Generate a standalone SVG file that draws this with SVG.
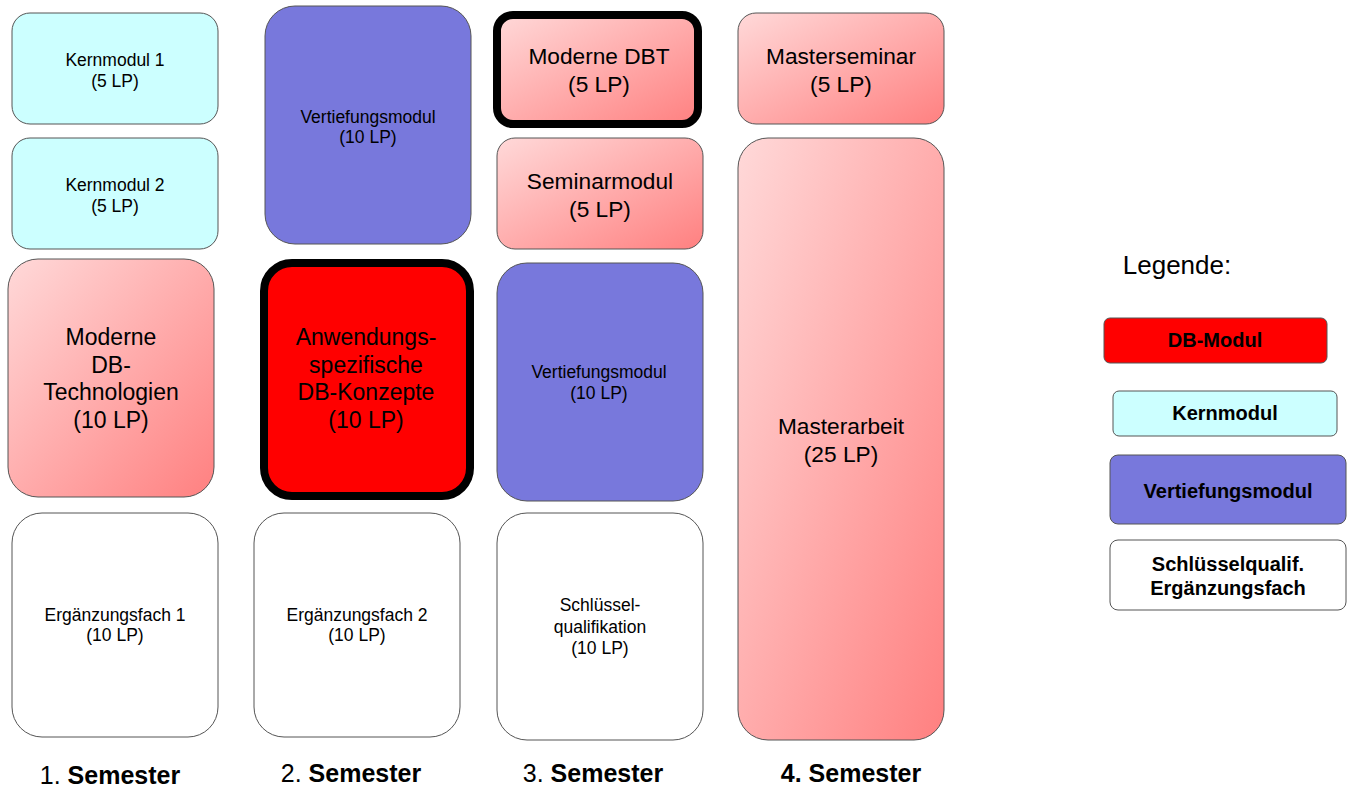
<svg xmlns="http://www.w3.org/2000/svg" width="1347" height="791" viewBox="0 0 1347 791">
<defs>
<linearGradient id="pink" x1="0" y1="0" x2="1" y2="1">
<stop offset="0" stop-color="#ffd9d9"/>
<stop offset="1" stop-color="#ff8080"/>
</linearGradient>
<style>
text{font-family:"Liberation Sans",Arial,sans-serif;fill:#000;text-anchor:middle}
.k{fill:#ccffff;stroke:#555;stroke-width:1}
.v{fill:#7878dc;stroke:#555;stroke-width:1}
.p{fill:url(#pink);stroke:#555;stroke-width:1}
.w{fill:#fff;stroke:#555;stroke-width:1}
.r{fill:#ff0000;stroke:#555;stroke-width:1}
.thick{stroke:#000;stroke-width:8}
.s14{font-size:17.5px}
.s20{font-size:22.7px}
.s22{font-size:23px}
.b16{font-size:20px;font-weight:bold}
.sem{font-size:25px}
</style>
</defs>
<rect width="1347" height="791" fill="#fff"/>

<g id="kern1"><rect class="k" x="12" y="13" width="206" height="111" rx="18"/><text class="s14" x="115" y="66">Kernmodul 1</text><text class="s14" x="115" y="87">(5 LP)</text></g>
<g id="kern2"><rect class="k" x="12" y="138" width="206" height="111" rx="18"/><text class="s14" x="115" y="191">Kernmodul 2</text><text class="s14" x="115" y="212">(5 LP)</text></g>
<g id="mdbt10"><rect class="p" x="8" y="259" width="206" height="238" rx="30"/><text class="s22" x="111" y="345">Moderne</text><text class="s22" x="111" y="373">DB-</text><text class="s22" x="111" y="400">Technologien</text><text class="s22" x="111" y="428">(10 LP)</text></g>
<g id="erg1"><rect class="w" x="12" y="513" width="206" height="224" rx="30"/><text class="s14" x="115" y="621">Ergänzungsfach 1</text><text class="s14" x="115" y="641">(10 LP)</text></g>

<g id="vert1"><rect class="v" x="265" y="6" width="206" height="238" rx="30"/><text class="s14" x="368" y="123">Vertiefungsmodul</text><text class="s14" x="368" y="143">(10 LP)</text></g>
<g id="anw"><rect class="r thick" x="264" y="263" width="206" height="233" rx="28"/><text class="s22" x="366" y="345">Anwendungs-</text><text class="s22" x="366" y="373">spezifische</text><text class="s22" x="366" y="400">DB-Konzepte</text><text class="s22" x="366" y="428">(10 LP)</text></g>
<g id="erg2"><rect class="w" x="254" y="513" width="206" height="224" rx="30"/><text class="s14" x="357" y="621">Ergänzungsfach 2</text><text class="s14" x="357" y="641">(10 LP)</text></g>

<g id="mdbt"><rect class="p thick" x="497" y="15" width="201" height="109" rx="16"/><text class="s20" x="599" y="64">Moderne DBT</text><text class="s20" x="599" y="92">(5 LP)</text></g>
<g id="seminar"><rect class="p" x="497" y="138" width="206" height="111" rx="18"/><text class="s20" x="600" y="189">Seminarmodul</text><text class="s20" x="600" y="217">(5 LP)</text></g>
<g id="vert2"><rect class="v" x="497" y="263" width="206" height="238" rx="30"/><text class="s14" x="599" y="378">Vertiefungsmodul</text><text class="s14" x="599" y="399">(10 LP)</text></g>
<g id="schl"><rect class="w" x="497" y="513" width="206" height="227" rx="30"/><text class="s14" x="600" y="611">Schlüssel-</text><text class="s14" x="600" y="633">qualifikation</text><text class="s14" x="600" y="654">(10 LP)</text></g>

<g id="mseminar"><rect class="p" x="738" y="13" width="206" height="111" rx="18"/><text class="s20" x="841" y="64">Masterseminar</text><text class="s20" x="841" y="92">(5 LP)</text></g>
<g id="marbeit"><rect class="p" x="738" y="138" width="206" height="602" rx="30"/><text class="s20" x="841" y="434">Masterarbeit</text><text class="s20" x="841" y="462">(25 LP)</text></g>

<g id="semesters">
<text class="sem" x="110" y="784">1. <tspan font-weight="bold">Semester</tspan></text>
<text class="sem" x="351" y="782">2. <tspan font-weight="bold">Semester</tspan></text>
<text class="sem" x="593" y="782">3. <tspan font-weight="bold">Semester</tspan></text>
<text class="sem" x="851" y="782" font-weight="bold">4. Semester</text>
</g>

<g id="legend">
<text x="1177" y="274" font-size="26">Legende:</text>
<g id="leg-db"><rect class="r" x="1104" y="318" width="223" height="45" rx="6"/><text class="b16" x="1215" y="347">DB-Modul</text></g>
<g id="leg-kern"><rect class="k" x="1113" y="391" width="224" height="45" rx="6"/><text class="b16" x="1225" y="420">Kernmodul</text></g>
<g id="leg-vert"><rect class="v" x="1110" y="455" width="236" height="69" rx="8"/><text class="b16" x="1228" y="498">Vertiefungsmodul</text></g>
<g id="leg-schl"><rect class="w" x="1110" y="540" width="236" height="70" rx="8"/><text class="b16" x="1228" y="571">Schlüsselqualif.</text><text class="b16" x="1228" y="595">Ergänzungsfach</text></g>
</g>
<g id="connectors"/>
</svg>
